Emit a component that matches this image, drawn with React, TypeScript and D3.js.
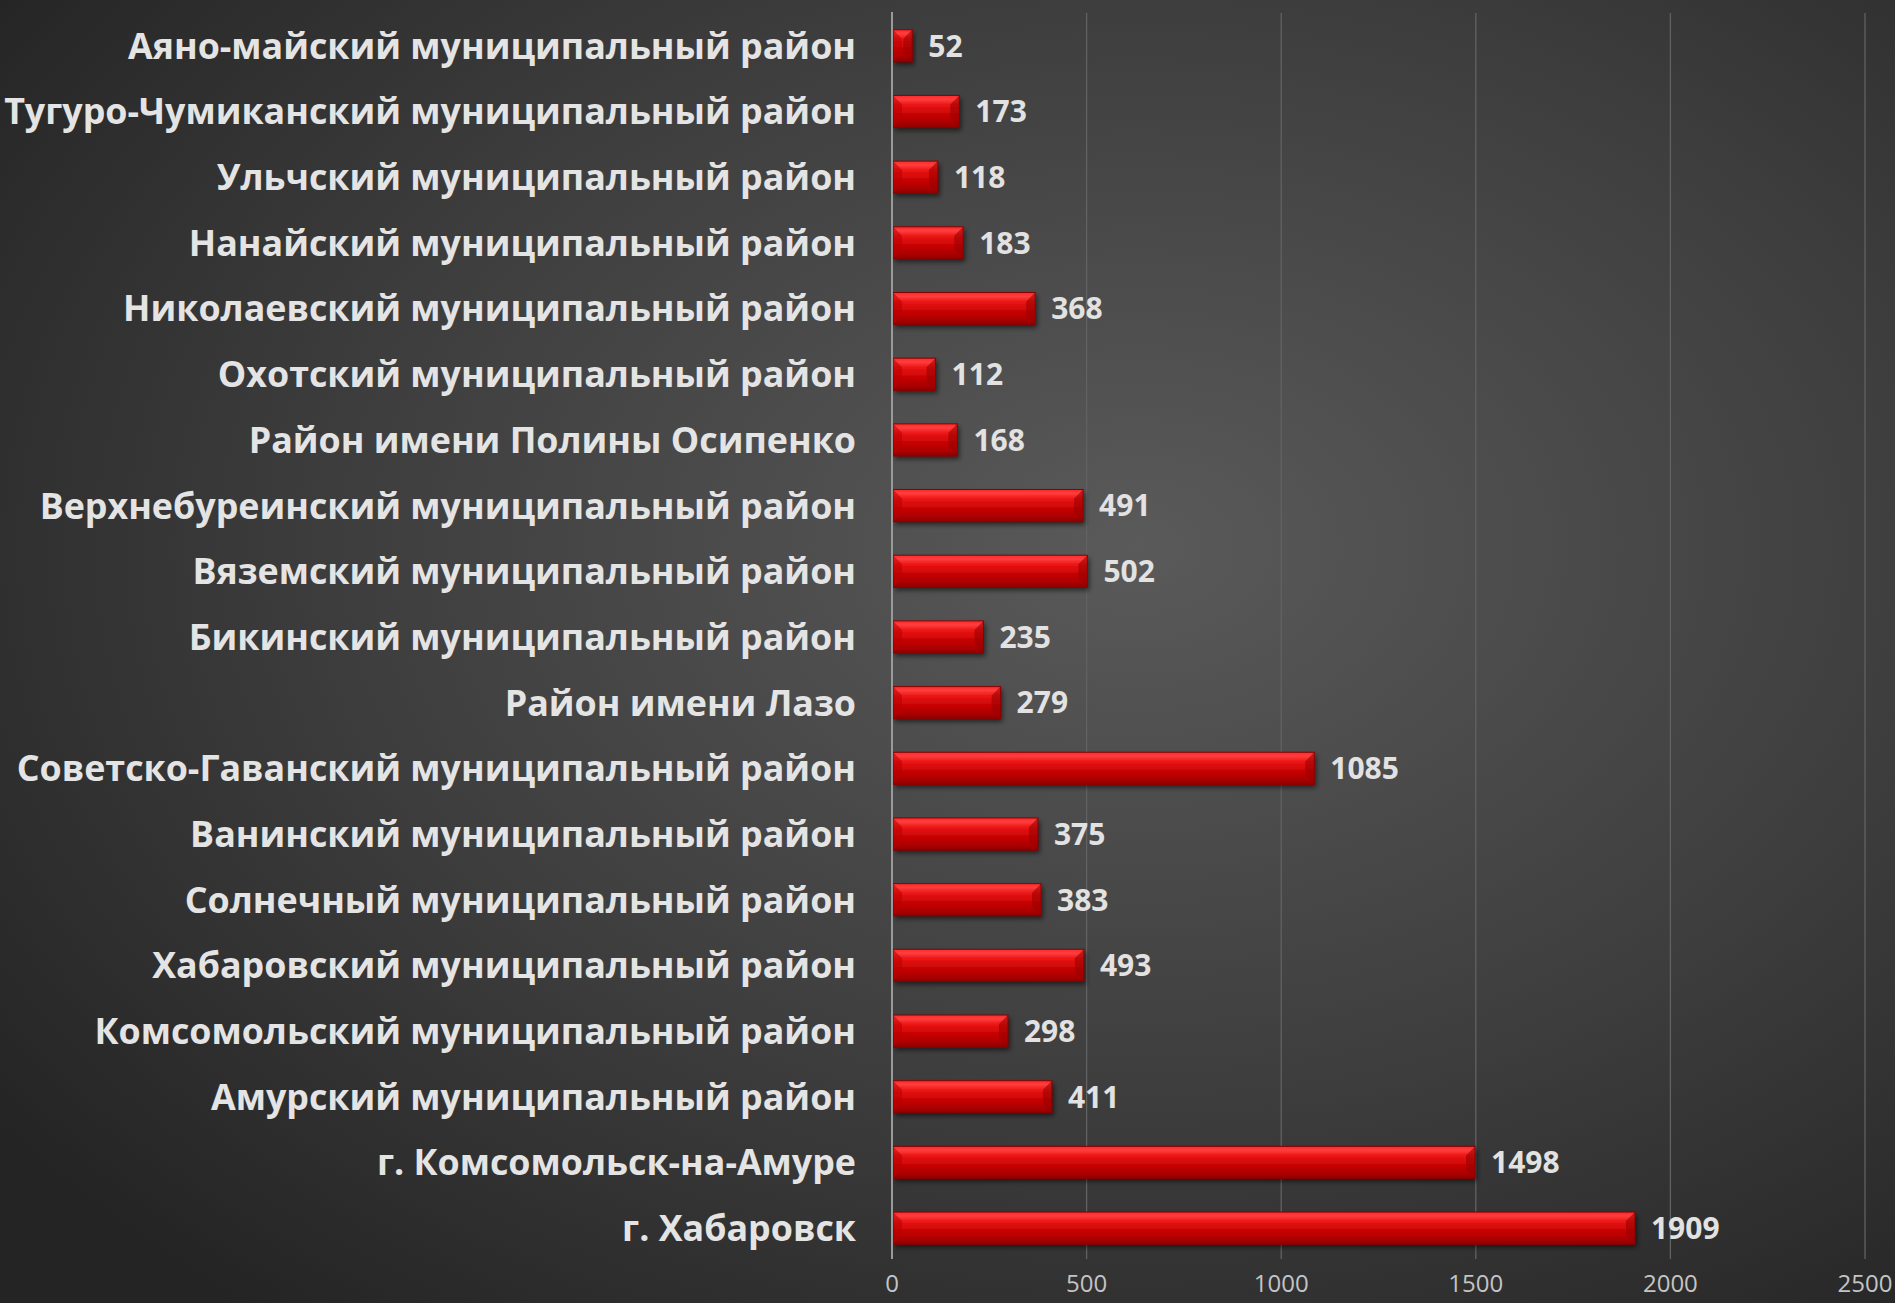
import { useMemo } from 'react'
import * as d3 from 'd3'

const districts = [
  'Аяно-майский муниципальный район',
  'Тугуро-Чумиканский муниципальный район',
  'Ульчский муниципальный район',
  'Нанайский муниципальный район',
  'Николаевский муниципальный район',
  'Охотский муниципальный район',
  'Район имени Полины Осипенко',
  'Верхнебуреинский муниципальный район',
  'Вяземский муниципальный район',
  'Бикинский муниципальный район',
  'Район имени Лазо',
  'Советско-Гаванский муниципальный район',
  'Ванинский муниципальный район',
  'Солнечный муниципальный район',
  'Хабаровский муниципальный район',
  'Комсомольский муниципальный район',
  'Амурский муниципальный район',
  'г. Комсомольск-на-Амуре',
  'г. Хабаровск',
]

const counts = [52, 173, 118, 183, 368, 112, 168, 491, 502, 235, 279, 1085, 375, 383, 493, 298, 411, 1498, 1909]

const xTicks = [0, 500, 1000, 1500, 2000, 2500]

const W = 1895
const H = 1303
const FONT = "'Open Sans', 'DejaVu Sans', sans-serif"

export default function App() {
  const rows = useMemo(() => districts.map((name, i) => ({ name, value: counts[i] })), [])

  const x = d3.scaleLinear().domain([0, 2500]).range([892, 1865])
  const y = d3
    .scaleBand<string>()
    .domain(districts)
    .range([13, 1261])
    .paddingInner(0.51)
    .paddingOuter(0.255)

  const bw = y.bandwidth()
  const bev = 9

  return (
    <svg width={W} height={H} style={{ position: 'absolute', left: 0, top: 0 }}>
      <defs>
        <radialGradient id="bg" cx="0.6" cy="0.42" r="0.75">
          <stop offset="0" stopColor="#5a5a5a" />
          <stop offset="0.55" stopColor="#3e3e3e" />
          <stop offset="1" stopColor="#242424" />
        </radialGradient>
        <linearGradient id="bar" x1="0" y1="0" x2="0" y2="1">
          <stop offset="0" stopColor="#ff2a2a" />
          <stop offset="0.12" stopColor="#ff3d3d" />
          <stop offset="0.3" stopColor="#ea1414" />
          <stop offset="0.6" stopColor="#c60303" />
          <stop offset="0.85" stopColor="#aa0000" />
          <stop offset="1" stopColor="#8c0606" />
        </linearGradient>
        <filter id="sh" x="-10%" y="-30%" width="130%" height="180%">
          <feDropShadow dx="2" dy="3" stdDeviation="2.5" floodColor="#000" floodOpacity="0.55" />
        </filter>
      </defs>

      <rect width={W} height={H} fill="url(#bg)" />

      {xTicks.slice(1).map((t) => (
        <line key={t} x1={x(t)} x2={x(t)} y1={13} y2={1259} stroke="#626262" strokeWidth={1.3} />
      ))}

      {rows.map((d) => {
        const y0 = y(d.name)!
        const x0 = x(0) + 1
        const x1 = x(d.value)
        const y1 = y0 + bw
        const b = Math.min(bev, (x1 - x0) / 2)
        return (
          <g key={d.name}>
            <rect x={x0} y={y0} width={x1 - x0} height={bw} fill="url(#bar)" filter="url(#sh)" />
            <polygon
              points={`${x0},${y0} ${x0 + b},${y0 + b} ${x0 + b},${y1 - b} ${x0},${y1}`}
              fill="#b80000"
              opacity={0.55}
            />
            <polygon
              points={`${x1},${y0} ${x1 - b},${y0 + b} ${x1 - b},${y1 - b} ${x1},${y1}`}
              fill="#9a0000"
              opacity={0.6}
            />
            <rect x={x0} y={y0} width={x1 - x0} height={bw} fill="none" stroke="#8a0000" strokeWidth={1} />
            <text
              x={x1 + 16}
              y={y0 + bw / 2}
              dy="0.36em"
              fill="#e2e2e2"
              fontFamily={FONT}
              fontWeight={700}
              fontSize={30}
            >
              {d.value}
            </text>
            <text
              x={856}
              y={y0 + bw / 2}
              dy="0.36em"
              textAnchor="end"
              fill="#e4e4e4"
              fontFamily={FONT}
              fontWeight={700}
              fontSize={35.8}
            >
              {d.name}
            </text>
          </g>
        )
      })}

      <line x1={x(0)} x2={x(0)} y1={12} y2={1259} stroke="#9a9a9a" strokeWidth={2} />

      {xTicks.map((t) => (
        <text
          key={t}
          x={x(t)}
          y={1284}
          dy="0.35em"
          textAnchor="middle"
          fill="#c4c4c4"
          fontFamily={FONT}
          fontSize={24}
        >
          {t}
        </text>
      ))}
    </svg>
  )
}
